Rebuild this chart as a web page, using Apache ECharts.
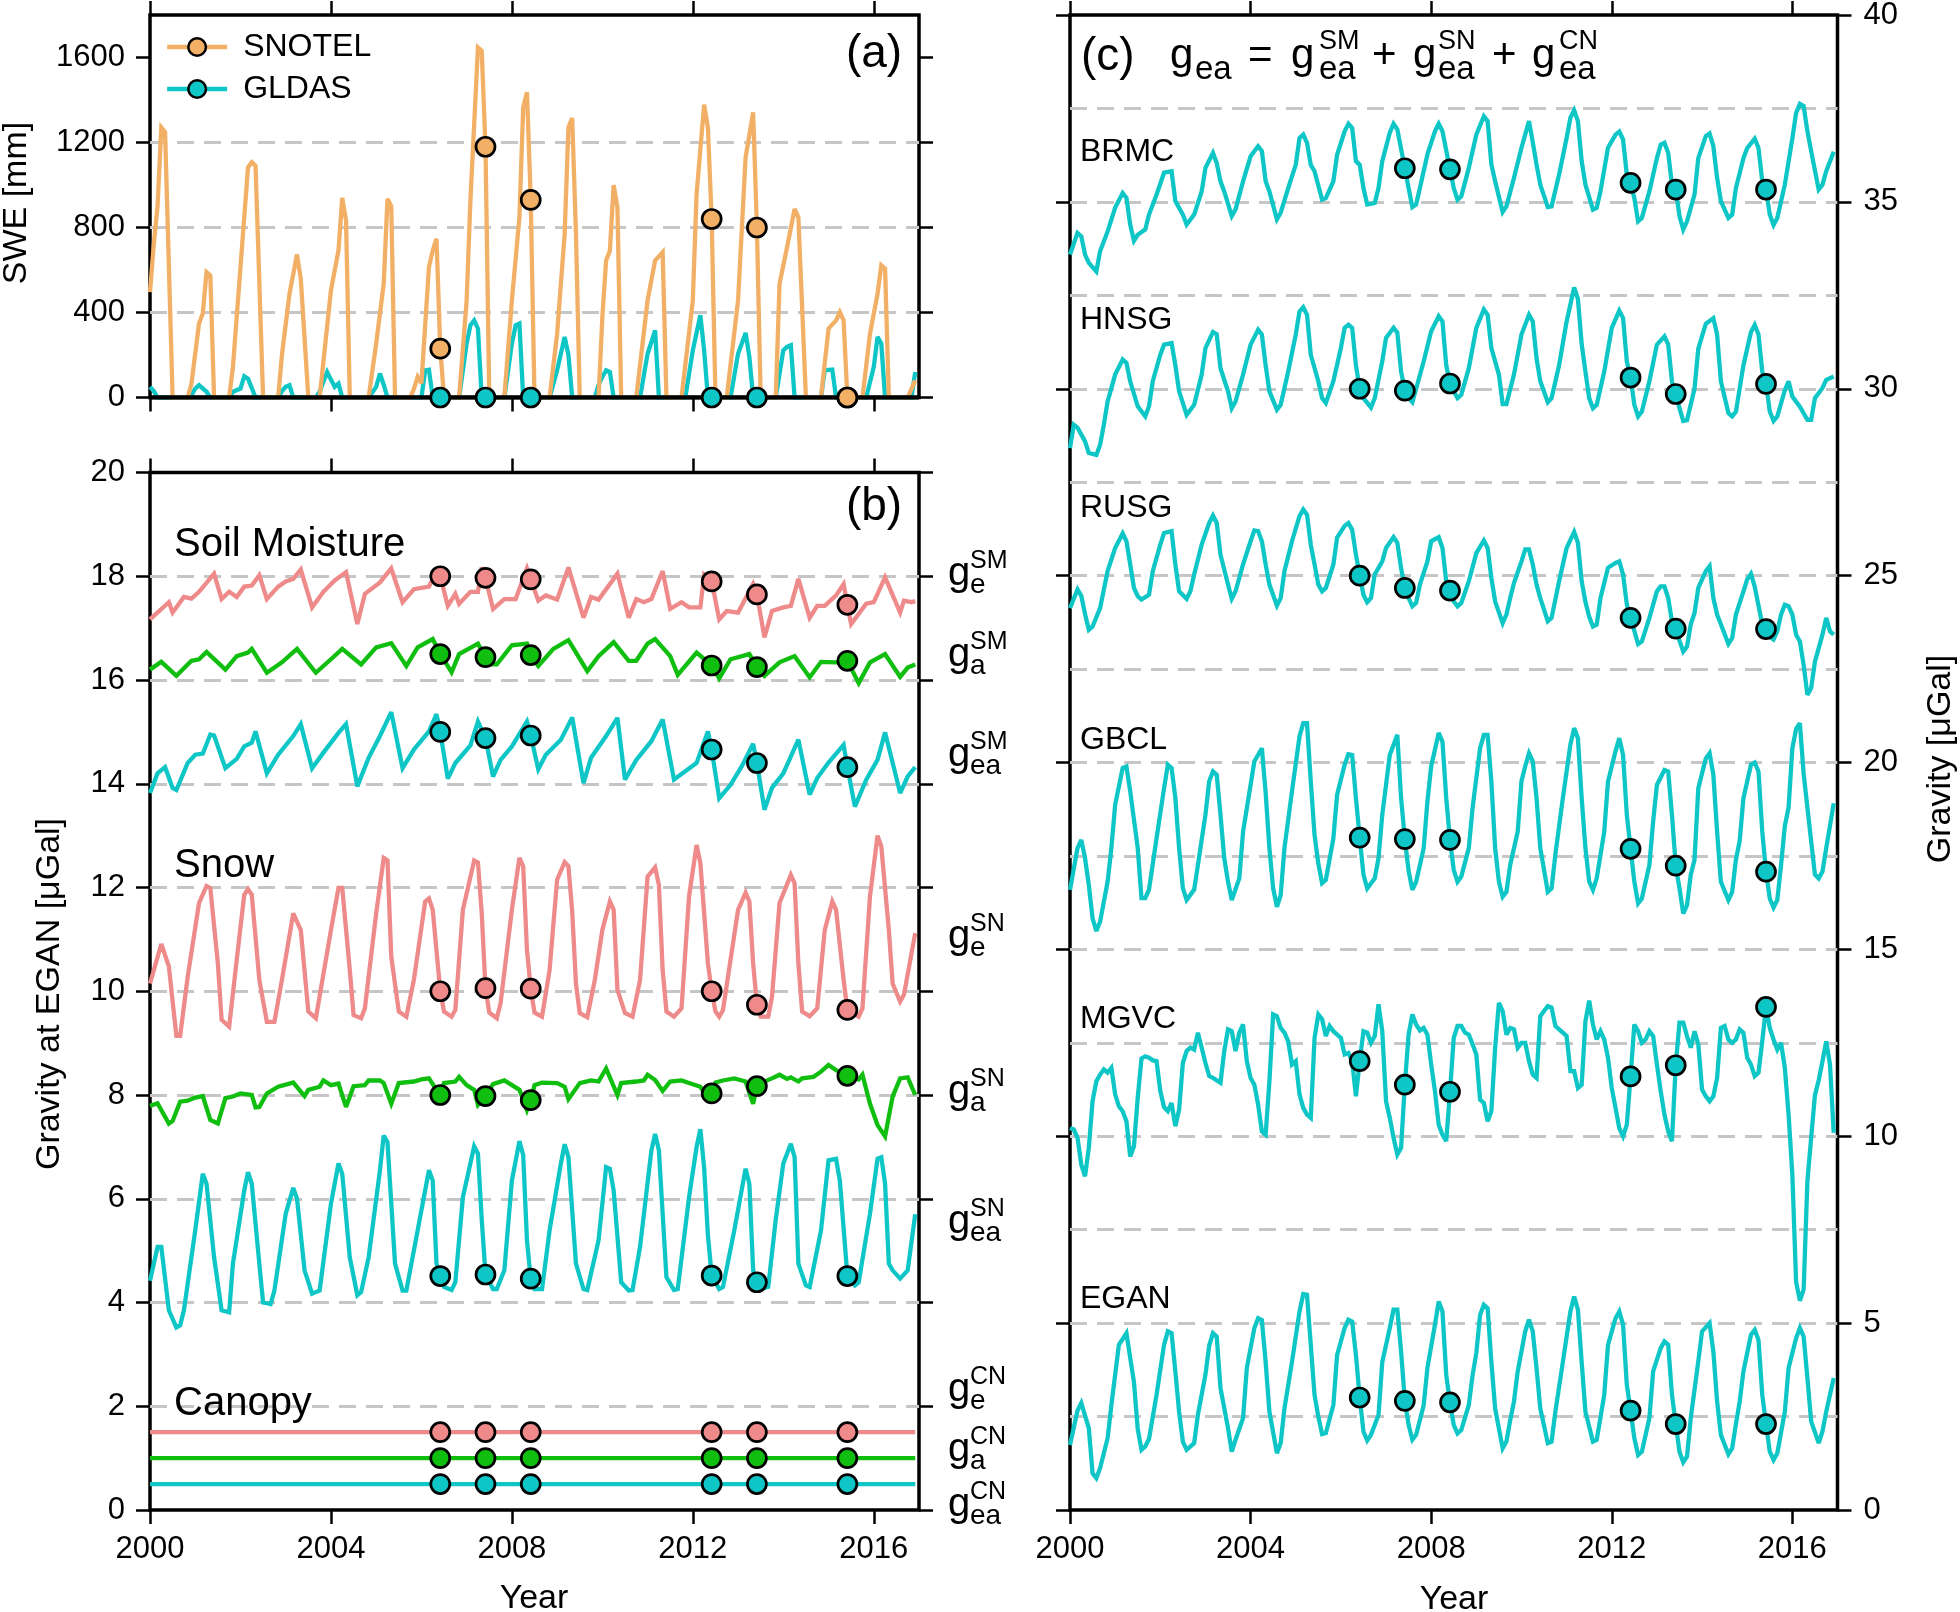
<!DOCTYPE html>
<html><head><meta charset="utf-8">
<script src="https://cdn.jsdelivr.net/npm/echarts/dist/echarts.min.js"></script>
<style>html,body{margin:0;padding:0;background:#fff}#c{width:1960px;height:1612px}</style>
</head><body><div id="c"></div>
<script>
// x values are month indices since Jan 2000 (0 = Jan 2000); axes label them as years
const yearTicks = [0, 48, 96, 144, 192];
const surveyMonths = [77, 89, 101, 149, 161, 185];

// ---- panel (a) SWE [mm] ----
const snotelSWE = [[0,496],[1,720],[2,900],[3,1271],[4,1248],[6,0],[10,0],[11,66],[13,348],[14,395],[15,590],[16,574],[17,0],[21,0],[22,144],[24,612],[26,1083],[27,1107],[28,1091],[30,0],[34,0],[35,200],[37,488],[39,673],[40,559],[42,0],[45,0],[48,504],[50,692],[51,939],[52,833],[53,0],[58,0],[60,254],[62,535],[63,935],[64,900],[65,0],[69,0],[70,40],[71,97],[72,66],[74,614],[75,692],[76,747],[77,230],[78,0],[82,0],[84,457],[85,927],[87,1647],[88,1632],[89,1180],[90,0],[94,0],[96,457],[98,849],[99,1365],[100,1436],[101,930],[102,0],[106,0],[108,300],[110,770],[111,1271],[112,1315],[113,770],[114,0],[119,0],[120,380],[121,645],[122,692],[123,1000],[124,895],[125,0],[129,0],[132,457],[134,645],[136,684],[137,0],[141,0],[144,457],[145,958],[147,1378],[148,1271],[149,840],[150,0],[153,0],[156,457],[158,1130],[160,1342],[161,800],[162,0],[166,0],[167,535],[169,707],[171,887],[172,848],[174,0],[178,0],[180,324],[182,363],[183,402],[184,363],[185,0],[189,0],[191,300],[193,488],[194,622],[195,606],[196,0],[201,0],[203,81]];
const gldasSWE = [[0,50],[1,30],[2,0],[10,0],[11,10],[12,42],[13,58],[15,27],[16,0],[21,0],[22,27],[24,42],[25,100],[26,89],[28,0],[34,0],[35,30],[36,50],[37,58],[38,0],[44,0],[45,27],[47,120],[49,50],[50,65],[51,0],[58,0],[60,50],[61,113],[62,60],[63,0],[72,0],[73,128],[74,131],[75,0],[82,0],[84,254],[85,340],[86,363],[87,324],[88,0],[94,0],[96,254],[97,340],[98,348],[99,0],[106,0],[108,128],[110,285],[111,200],[112,0],[118,0],[119,60],[120,97],[121,128],[122,120],[123,0],[130,0],[132,206],[134,316],[135,0],[142,0],[144,222],[146,387],[147,222],[148,0],[154,0],[156,206],[158,304],[159,190],[160,0],[166,0],[168,222],[169,238],[170,246],[171,0],[178,0],[179,128],[181,131],[182,0],[190,0],[192,144],[193,285],[194,254],[195,0],[202,0],[203,120]];
const snotelObs = [230, 1180, 930, 840, 800, 0];
const gldasObs = [0, 0, 0, 0, 0, 0];

// ---- panel (b) gravity at EGAN [µGal] ----
const smE = [[0,17.17],[5,17.5],[6,17.3],[9,17.6],[11,17.57],[13,17.7],[17,18.05],[19,17.56],[21,17.7],[23,17.6],[25,17.8],[27,17.82],[29,18.02],[31,17.56],[34,17.8],[36,17.9],[38,17.95],[40,18.13],[43,17.4],[46,17.7],[49,17.92],[52,18.08],[55,17.08],[57,17.66],[61,17.88],[64,18.15],[67,17.5],[70,17.75],[74,17.8],[76,18.1],[77,18.0],[79,17.43],[81,17.66],[82,17.47],[85,17.7],[87,17.7],[88,18.17],[89,17.97],[91,17.37],[94,17.56],[97,17.56],[100,18.15],[101,17.94],[103,17.53],[105,17.63],[108,17.55],[111,18.17],[115,17.2],[117,17.6],[119,17.55],[124,18.05],[127,17.2],[129,17.56],[131,17.5],[133,17.56],[136,18.1],[138,17.37],[141,17.5],[143,17.4],[146,17.4],[147,18.03],[149,17.9],[151,17.17],[153,17.33],[156,17.3],[160,17.85],[161,17.65],[163,16.82],[165,17.33],[168,17.4],[170,17.43],[172,17.95],[175,17.2],[177,17.43],[179,17.43],[182,17.63],[184,17.85],[185,17.45],[186,17.08],[190,17.47],[192,17.5],[195,17.98],[199,17.3],[200,17.53],[202,17.5],[203,17.52]];
const smA = [[0,16.2],[3,16.35],[7,16.08],[11,16.37],[13,16.4],[15,16.54],[20,16.2],[23,16.46],[26,16.53],[27,16.6],[31,16.14],[35,16.34],[39,16.6],[44,16.14],[48,16.4],[51,16.6],[56,16.3],[60,16.63],[64,16.71],[68,16.27],[71,16.63],[75,16.79],[77,16.5],[80,16.15],[82,16.5],[87,16.7],[89,16.44],[90,16.3],[92,16.3],[96,16.67],[100,16.7],[101,16.48],[103,16.27],[107,16.6],[111,16.77],[116,16.17],[119,16.46],[123,16.73],[127,16.37],[129,16.37],[132,16.7],[134,16.79],[138,16.46],[140,16.1],[145,16.53],[149,16.28],[151,16.03],[154,16.4],[159,16.5],[161,16.25],[163,16.08],[167,16.34],[171,16.46],[175,16.05],[178,16.35],[182,16.34],[185,16.37],[188,15.94],[191,16.34],[195,16.5],[199,16.06],[201,16.24],[203,16.3]];
const smEA = [[0,13.82],[2,14.2],[4,14.32],[6,13.92],[7,13.88],[10,14.4],[12,14.56],[14,14.58],[16,14.95],[17,14.93],[20,14.3],[23,14.48],[25,14.72],[27,14.79],[28,15.01],[31,14.2],[34,14.56],[38,14.92],[40,15.15],[43,14.3],[46,14.6],[50,14.98],[52,15.15],[55,13.95],[58,14.5],[61,14.92],[64,15.38],[67,14.3],[70,14.66],[74,15.01],[76,15.34],[77,15.0],[79,14.1],[81,14.4],[85,14.74],[87,15.2],[89,14.88],[91,14.14],[93,14.46],[96,14.72],[100,15.2],[101,14.93],[103,14.28],[105,14.56],[109,14.85],[112,15.28],[115,14.01],[117,14.5],[121,14.92],[124,15.27],[126,14.08],[129,14.46],[133,14.82],[136,15.24],[139,14.08],[142,14.24],[145,14.4],[148,15.01],[149,14.66],[151,13.72],[154,13.98],[157,14.34],[160,14.77],[161,14.4],[163,13.5],[165,13.92],[168,14.2],[172,14.85],[175,13.79],[177,14.11],[180,14.41],[184,14.75],[185,14.32],[187,13.56],[190,14.08],[193,14.46],[195,14.99],[199,13.82],[201,14.14],[203,14.32]];
const snE = [[0,10.15],[3,10.91],[5,10.48],[7,9.14],[8,9.14],[10,10.28],[13,11.7],[15,12.03],[16,11.99],[18,10.54],[19,9.45],[21,9.32],[23,10.6],[25,11.86],[26,11.97],[27,11.86],[29,10.22],[31,9.41],[33,9.41],[35,10.22],[38,11.5],[40,11.18],[42,9.61],[44,9.48],[48,11.18],[50,11.99],[51,11.99],[53,10.41],[54,9.54],[56,9.48],[57,9.67],[60,11.5],[62,12.57],[63,12.52],[64,10.67],[66,9.61],[68,9.51],[70,10.22],[73,11.73],[74,11.79],[75,11.57],[77,10.0],[78,9.61],[80,9.51],[81,9.64],[83,11.57],[86,12.52],[87,12.48],[88,11.5],[89,10.06],[90,9.59],[92,9.48],[93,9.77],[96,11.57],[98,12.57],[99,12.41],[100,10.8],[101,10.05],[102,9.59],[104,9.51],[106,10.41],[108,12.15],[110,12.49],[111,12.41],[112,11.54],[113,10.15],[114,9.58],[116,9.5],[118,10.22],[120,11.18],[122,11.73],[123,11.57],[124,10.03],[126,9.58],[128,9.51],[130,10.22],[132,12.21],[134,12.39],[135,12.05],[136,10.41],[137,9.61],[139,9.51],[141,9.67],[143,11.83],[145,12.82],[146,12.47],[148,10.54],[149,10.0],[150,9.61],[151,9.51],[152,9.64],[156,11.57],[158,11.9],[159,11.73],[160,10.54],[161,9.74],[162,9.51],[164,9.51],[165,9.89],[167,11.7],[170,12.24],[171,12.08],[172,10.54],[173,9.61],[175,9.52],[177,9.67],[179,11.18],[181,11.73],[182,11.57],[184,10.22],[185,9.64],[188,9.51],[189,9.67],[191,11.83],[193,13.0],[194,12.79],[196,11.18],[197,10.15],[199,9.8],[200,9.93],[203,11.12]];
const snA = [[0,7.79],[2,7.84],[5,7.45],[6,7.5],[8,7.87],[10,7.89],[12,7.95],[14,7.98],[16,7.52],[18,7.45],[20,7.94],[22,7.97],[24,8.03],[27,8.0],[28,7.76],[29,7.77],[31,8.03],[34,8.16],[37,8.22],[38,8.24],[41,7.98],[42,8.1],[45,8.16],[46,8.28],[48,8.19],[50,8.22],[52,7.77],[54,8.17],[57,8.19],[58,8.28],[61,8.28],[62,8.23],[64,7.83],[66,8.23],[70,8.26],[72,8.3],[74,8.32],[76,8.1],[77,8.0],[78,8.23],[81,8.26],[82,8.35],[84,8.19],[86,8.1],[87,7.81],[89,7.98],[91,8.21],[94,8.28],[98,8.1],[100,7.71],[101,7.9],[102,8.19],[104,8.24],[108,8.23],[110,8.16],[111,7.92],[114,8.23],[117,8.28],[119,8.26],[121,8.51],[124,8.0],[125,8.23],[129,8.26],[131,8.28],[132,8.39],[134,8.29],[136,8.08],[138,8.26],[141,8.28],[143,8.23],[146,8.16],[148,7.92],[149,8.03],[150,8.24],[152,8.28],[155,8.32],[158,8.26],[160,7.83],[161,8.17],[162,8.23],[165,8.32],[167,8.39],[169,8.31],[170,8.34],[172,8.26],[173,8.32],[176,8.35],[178,8.45],[180,8.58],[182,8.48],[185,8.37],[188,8.3],[189,8.39],[191,7.83],[193,7.42],[195,7.2],[197,7.97],[199,8.32],[201,8.34],[203,8.0]];
const snEA = [[0,4.42],[2,5.07],[3,5.07],[5,3.85],[7,3.52],[8,3.56],[9,3.85],[12,5.39],[14,6.48],[15,6.29],[17,4.87],[19,3.85],[21,3.81],[22,4.75],[25,6.16],[26,6.51],[27,6.29],[29,4.75],[30,4.0],[32,3.97],[33,4.23],[36,5.71],[38,6.21],[39,6.0],[41,4.62],[43,4.17],[45,4.23],[48,5.9],[50,6.68],[51,6.48],[53,4.87],[55,4.14],[56,4.2],[58,4.87],[61,6.55],[62,7.22],[63,7.09],[65,4.75],[67,4.23],[68,4.23],[71,5.39],[74,6.55],[75,6.35],[76,4.75],[77,4.51],[78,4.3],[80,4.24],[81,4.39],[83,6.03],[86,7.01],[87,6.87],[88,5.6],[89,4.54],[91,4.26],[92,4.26],[94,4.62],[96,6.35],[98,7.11],[99,6.84],[100,5.2],[101,4.46],[102,4.26],[104,4.26],[106,5.39],[109,6.68],[110,7.05],[111,6.8],[113,4.75],[115,4.26],[116,4.24],[119,5.2],[121,6.61],[122,6.58],[123,6.16],[125,4.39],[127,4.23],[128,4.24],[130,5.07],[133,6.93],[134,7.25],[135,6.93],[137,4.49],[139,4.24],[140,4.26],[143,6.03],[145,7.0],[146,7.34],[147,6.6],[148,5.3],[149,4.52],[151,4.26],[152,4.3],[155,5.39],[158,6.58],[159,6.29],[160,4.62],[161,4.39],[162,4.26],[164,4.3],[166,5.6],[168,6.68],[170,7.06],[171,6.8],[172,4.75],[174,4.33],[175,4.3],[178,5.39],[180,6.74],[182,6.77],[183,6.35],[185,4.51],[187,4.33],[188,4.39],[191,5.71],[193,6.77],[194,6.8],[195,6.29],[196,4.75],[197,4.62],[199,4.46],[201,4.62],[203,5.7]];
const cnE = [[0,1.5],[203,1.5]];
const cnA = [[0,1.0],[203,1.0]];
const cnEA = [[0,0.5],[203,0.5]];
const smEObs = [18.0, 17.97, 17.94, 17.9, 17.65, 17.45];
const smAObs = [16.5, 16.44, 16.48, 16.28, 16.25, 16.37];
const smEAObs = [15.0, 14.88, 14.93, 14.66, 14.4, 14.32];
const snEObs = [10.0, 10.06, 10.05, 10.0, 9.74, 9.64];
const snAObs = [8.0, 7.98, 7.9, 8.03, 8.17, 8.37];
const snEAObs = [4.51, 4.54, 4.46, 4.52, 4.39, 4.51];
const cnEObs = [1.5, 1.5, 1.5, 1.5, 1.5, 1.5];
const cnAObs = [1.0, 1.0, 1.0, 1.0, 1.0, 1.0];
const cnEAObs = [0.5, 0.5, 0.5, 0.5, 0.5, 0.5];

// ---- panel (c) g_ea at stations [µGal], offset ----
const brmc = [[0,33.59],[2,34.17],[3,34.08],[4,33.59],[5,33.37],[7,33.14],[8,33.68],[10,34.21],[12,34.84],[14,35.24],[15,35.11],[16,34.39],[17,33.96],[18,34.12],[20,34.26],[21,34.66],[23,35.19],[25,35.78],[27,35.82],[28,35.02],[30,34.66],[31,34.39],[33,34.66],[35,35.28],[36,35.91],[38,36.31],[39,36.04],[40,35.55],[41,35.28],[43,34.62],[44,34.8],[46,35.55],[48,36.22],[50,36.49],[51,36.36],[52,35.55],[53,35.28],[55,34.53],[56,34.71],[58,35.37],[60,35.99],[61,36.71],[62,36.8],[63,36.58],[64,35.99],[65,35.82],[67,35.06],[68,35.1],[70,35.55],[71,36.26],[73,36.89],[74,37.09],[75,36.98],[76,36.09],[77,35.99],[78,35.37],[79,34.93],[81,34.97],[82,35.37],[83,36.09],[85,36.85],[86,37.09],[87,36.94],[89,35.9],[90,35.37],[91,34.86],[92,34.93],[93,35.37],[95,36.27],[97,36.89],[98,37.09],[99,36.89],[101,35.87],[102,35.37],[103,35.06],[104,35.15],[106,35.91],[108,36.8],[110,37.29],[111,37.16],[112,36.0],[113,35.55],[115,34.73],[116,34.88],[118,35.64],[120,36.45],[122,37.16],[123,36.6],[124,36.0],[125,35.46],[127,34.86],[128,34.88],[130,35.73],[132,36.71],[133,37.25],[134,37.45],[135,37.16],[136,36.09],[137,35.46],[139,34.79],[140,34.84],[141,35.28],[143,36.45],[145,36.8],[146,36.88],[147,36.67],[148,35.73],[149,35.51],[150,35.1],[151,34.48],[152,34.57],[154,35.28],[156,36.17],[157,36.53],[158,36.58],[159,36.31],[160,35.46],[161,35.33],[162,34.62],[163,34.26],[164,34.48],[166,35.2],[167,36.17],[169,36.76],[170,36.83],[171,36.49],[172,35.64],[173,35.02],[175,34.57],[176,34.66],[177,35.37],[179,36.17],[180,36.44],[182,36.69],[183,36.44],[184,35.55],[185,35.33],[186,34.66],[187,34.38],[188,34.57],[190,35.46],[192,36.7],[193,37.38],[194,37.62],[195,37.56],[196,36.89],[197,36.36],[199,35.33],[200,35.46],[201,35.82],[203,36.34]];
const hnsg = [[0,28.41],[1,29.04],[2,28.96],[4,28.59],[5,28.28],[7,28.23],[8,28.5],[9,29.04],[10,29.66],[12,30.38],[14,30.78],[15,30.69],[16,30.2],[18,29.53],[20,29.26],[21,29.53],[22,30.2],[24,30.91],[25,31.18],[27,31.22],[28,30.63],[29,29.93],[31,29.3],[33,29.57],[35,30.38],[36,31.09],[38,31.52],[39,31.46],[40,30.55],[42,29.93],[43,29.48],[44,29.66],[46,30.38],[48,31.18],[50,31.58],[51,31.45],[52,30.63],[53,29.93],[55,29.44],[56,29.57],[58,30.46],[60,31.45],[61,32.07],[62,32.18],[63,31.98],[64,30.91],[66,30.2],[67,29.75],[68,29.62],[70,30.2],[72,31.09],[73,31.63],[74,31.71],[75,31.63],[76,30.63],[77,30.0],[78,29.75],[80,29.5],[81,29.75],[83,30.73],[84,31.36],[86,31.63],[87,31.5],[88,30.46],[89,29.95],[90,29.75],[91,29.64],[94,30.73],[96,31.54],[98,31.94],[99,31.8],[100,30.63],[101,30.14],[102,29.93],[103,29.75],[104,29.84],[106,30.55],[108,31.63],[110,32.12],[111,31.98],[112,31.09],[114,30.38],[115,29.59],[116,29.59],[118,30.38],[120,31.45],[122,31.98],[123,31.8],[124,30.82],[125,30.2],[127,29.64],[128,29.75],[130,30.63],[132,31.8],[134,32.71],[135,32.4],[136,31.2],[137,30.46],[138,29.75],[139,29.48],[140,29.57],[142,30.46],[144,31.63],[146,32.09],[147,31.89],[148,30.73],[149,30.3],[150,29.57],[151,29.26],[152,29.39],[154,30.2],[156,31.18],[158,31.4],[159,31.18],[160,30.2],[161,29.86],[162,29.48],[163,29.14],[164,29.16],[166,30.0],[167,31.07],[169,31.74],[171,31.89],[172,31.45],[173,30.2],[175,29.35],[176,29.26],[177,29.39],[179,30.63],[181,31.52],[182,31.71],[183,31.45],[184,30.46],[185,30.13],[186,29.39],[187,29.14],[188,29.26],[190,29.96],[191,30.2],[192,29.79],[194,29.52],[196,29.17],[197,29.17],[198,29.75],[200,30.02],[201,30.24],[203,30.33]];
const rusg = [[0,24.13],[2,24.63],[3,24.46],[4,23.97],[5,23.55],[6,23.64],[8,24.13],[10,25.12],[12,25.74],[14,26.13],[15,25.92],[16,25.3],[17,24.67],[18,24.45],[19,24.36],[21,24.49],[22,25.12],[24,25.83],[25,26.14],[27,26.19],[28,25.3],[29,24.58],[31,24.38],[32,24.58],[33,25.03],[35,25.83],[37,26.41],[38,26.61],[39,26.41],[40,25.56],[42,24.76],[43,24.38],[44,24.58],[46,25.3],[48,25.92],[49,26.21],[50,26.19],[51,25.92],[52,25.3],[53,24.76],[55,24.2],[56,24.4],[57,25.12],[59,25.92],[61,26.59],[62,26.77],[63,26.63],[64,25.83],[65,25.3],[66,24.76],[67,24.58],[68,24.67],[70,25.3],[71,26.02],[73,26.33],[74,26.41],[75,26.23],[76,25.56],[77,25.0],[78,24.49],[79,24.29],[80,24.4],[81,25.03],[83,25.38],[84,25.74],[86,26.03],[87,25.88],[88,25.2],[89,24.67],[90,24.4],[91,24.18],[92,24.27],[93,24.76],[95,25.38],[96,25.92],[98,26.03],[99,25.74],[100,24.85],[101,24.6],[102,24.31],[103,24.18],[104,24.27],[106,24.85],[108,25.6],[110,25.94],[111,25.74],[112,24.94],[113,24.31],[115,23.73],[116,23.96],[117,24.4],[118,24.8],[120,25.38],[121,25.7],[122,25.7],[123,25.3],[124,24.76],[125,24.4],[127,23.78],[128,23.87],[130,24.85],[132,25.74],[134,26.17],[135,25.88],[136,24.85],[137,24.3],[138,23.9],[139,23.64],[140,23.69],[141,24.4],[143,25.21],[145,25.34],[146,25.38],[147,25.03],[148,24.23],[149,23.87],[150,23.52],[151,23.17],[152,23.24],[154,23.87],[156,24.58],[157,24.71],[158,24.71],[159,24.4],[160,23.78],[161,23.58],[162,23.26],[163,22.97],[164,23.1],[165,23.7],[166,24.0],[167,24.67],[169,25.12],[170,25.25],[171,24.4],[172,23.96],[173,23.7],[175,23.17],[176,23.33],[177,23.96],[179,24.58],[180,24.9],[181,25.05],[182,24.7],[184,23.7],[185,23.57],[186,23.36],[187,23.29],[188,23.51],[189,23.96],[190,24.22],[191,24.18],[192,23.96],[193,23.42],[194,23.24],[195,22.61],[196,21.81],[197,21.99],[198,22.7],[199,23.06],[200,23.42],[201,23.87],[202,23.51],[203,23.42]];
const gbcl = [[0,16.59],[2,17.71],[3,17.93],[4,17.44],[5,16.72],[6,15.83],[7,15.49],[8,15.74],[10,16.81],[11,17.71],[12,18.87],[14,19.85],[15,19.89],[16,19.23],[18,17.71],[19,16.37],[20,16.37],[21,16.6],[23,17.97],[25,19.31],[26,19.94],[27,19.85],[28,19.05],[29,17.71],[30,16.64],[31,16.32],[33,16.6],[34,17.26],[36,18.6],[37,19.5],[38,19.76],[39,19.67],[40,18.6],[41,17.44],[42,16.81],[43,16.32],[45,16.9],[46,18.15],[48,19.4],[49,20.03],[51,20.38],[52,19.2],[53,17.71],[54,16.63],[55,16.14],[56,16.45],[57,17.71],[59,19.23],[61,20.7],[62,21.05],[63,21.05],[64,19.49],[65,18.06],[66,17.3],[67,16.77],[68,16.86],[70,17.97],[71,19.14],[73,19.94],[74,20.22],[75,20.2],[76,19.05],[77,17.99],[78,17.0],[79,16.63],[81,16.9],[82,17.44],[83,18.6],[85,20.2],[87,20.74],[88,19.05],[89,17.95],[90,17.1],[91,16.59],[92,16.81],[94,17.7],[95,18.96],[96,19.9],[98,20.79],[99,20.56],[100,19.05],[101,17.93],[102,17.12],[103,16.81],[104,16.95],[106,17.71],[107,18.78],[109,20.38],[110,20.74],[111,20.74],[112,19.49],[113,17.71],[114,16.81],[115,16.41],[116,16.54],[117,17.26],[119,18.15],[120,19.5],[121,19.9],[122,20.25],[123,20.03],[124,19.05],[125,17.71],[127,16.54],[128,16.63],[129,17.53],[131,19.05],[133,20.48],[134,20.92],[135,20.65],[136,19.05],[137,17.71],[138,16.81],[139,16.59],[140,16.9],[142,18.15],[143,19.49],[145,20.3],[146,20.65],[147,20.2],[148,18.6],[149,17.69],[150,16.81],[151,16.23],[152,16.36],[154,17.26],[155,18.42],[156,19.4],[158,19.8],[159,19.76],[160,18.6],[161,17.24],[162,16.63],[163,15.96],[164,16.18],[165,17.0],[166,17.4],[167,19.31],[169,20.11],[170,20.25],[171,19.67],[172,18.15],[173,16.81],[175,16.32],[176,16.54],[177,17.4],[178,17.9],[179,19.05],[181,19.94],[182,20.0],[183,19.76],[184,18.15],[185,17.08],[186,16.36],[187,16.12],[188,16.32],[189,17.26],[190,18.3],[191,18.8],[192,20.38],[193,20.9],[194,21.05],[195,19.7],[197,17.89],[198,17.0],[199,16.9],[200,17.08],[201,17.71],[203,18.91]];
const mgvc = [[0,10.22],[1,10.18],[2,9.96],[3,9.24],[4,8.93],[5,9.69],[6,10.94],[7,11.47],[8,11.65],[9,11.79],[10,11.7],[11,11.83],[12,11.12],[13,10.8],[14,10.67],[15,10.4],[16,9.46],[17,9.73],[18,11.03],[19,12.08],[20,12.14],[21,12.1],[22,12.03],[23,12.01],[24,11.21],[25,10.78],[26,10.67],[27,10.89],[28,10.27],[29,10.71],[30,11.96],[31,12.28],[32,12.37],[33,12.32],[34,12.77],[35,12.37],[36,11.96],[37,11.61],[38,11.56],[40,11.43],[41,12.28],[42,12.86],[43,12.81],[44,12.28],[45,12.77],[46,12.99],[47,12.01],[48,11.56],[49,11.38],[50,10.85],[51,10.13],[52,10.04],[53,11.47],[54,13.26],[55,13.21],[56,12.9],[57,12.77],[58,12.54],[59,11.92],[60,12.01],[61,11.12],[62,10.76],[63,10.58],[64,10.49],[65,12.63],[66,13.26],[67,13.13],[68,12.68],[69,12.95],[70,12.81],[71,12.72],[72,12.63],[73,12.19],[74,12.23],[75,12.01],[76,11.07],[77,12.01],[78,12.81],[79,12.77],[80,12.5],[81,12.68],[82,13.53],[83,12.81],[84,10.94],[85,10.49],[86,9.96],[87,9.51],[88,9.69],[89,11.38],[90,12.72],[91,13.26],[92,12.99],[93,12.83],[94,12.9],[95,12.72],[96,11.92],[97,11.21],[98,10.31],[99,10.04],[100,9.87],[101,11.19],[102,12.63],[103,12.95],[104,12.95],[105,12.77],[106,12.72],[107,12.46],[108,12.19],[109,10.98],[110,10.89],[111,10.4],[112,10.67],[113,12.37],[114,13.57],[115,13.35],[116,12.72],[117,12.9],[118,12.86],[119,12.37],[120,12.5],[121,12.5],[122,12.01],[123,11.65],[124,11.56],[125,13.21],[126,13.35],[127,13.48],[128,13.44],[129,12.95],[130,12.86],[131,12.77],[132,12.68],[133,11.74],[134,11.74],[135,11.29],[136,11.38],[137,13.08],[138,13.63],[139,12.99],[140,12.59],[141,12.81],[142,12.59],[143,12.1],[144,11.29],[145,10.76],[146,10.22],[147,10.0],[148,10.31],[149,11.6],[150,12.99],[151,12.81],[152,12.5],[153,12.59],[154,12.81],[155,12.68],[156,11.92],[157,11.21],[158,10.58],[159,10.13],[160,9.87],[161,11.9],[162,13.04],[163,13.04],[164,12.68],[165,12.37],[166,12.81],[167,12.46],[168,11.25],[169,11.07],[170,10.94],[171,11.07],[172,11.56],[173,12.9],[174,12.95],[175,12.59],[176,12.5],[177,12.59],[178,12.86],[179,12.77],[180,12.1],[181,11.92],[182,11.61],[183,11.7],[184,12.54],[185,13.46],[186,12.9],[187,12.59],[188,12.32],[189,12.5],[190,11.83],[191,10.58],[192,8.97],[193,6.1],[194,5.6],[195,5.9],[196,8.8],[197,9.96],[198,11.1],[199,11.5],[200,12.0],[201,12.54],[202,11.92],[203,10.09]];
const egan = [[0,1.74],[2,2.66],[3,2.86],[5,2.19],[6,0.98],[7,0.85],[8,1.12],[10,1.92],[11,2.81],[12,3.62],[13,4.42],[15,4.73],[17,3.42],[18,2.17],[19,1.61],[20,1.7],[21,1.9],[23,3.08],[25,4.42],[26,4.78],[27,4.73],[28,3.71],[29,2.63],[30,1.83],[31,1.61],[33,1.79],[34,2.55],[36,3.62],[37,4.4],[38,4.73],[39,4.64],[40,3.26],[42,2.19],[43,1.56],[44,1.88],[46,2.46],[47,3.8],[49,4.87],[50,5.13],[51,5.08],[52,3.96],[53,2.63],[55,1.52],[56,1.79],[57,2.72],[59,3.96],[61,5.31],[62,5.78],[63,5.76],[64,4.42],[65,3.08],[66,2.5],[67,2.03],[68,2.06],[70,2.81],[71,4.15],[73,4.87],[74,5.09],[75,5.04],[76,4.15],[77,3.01],[78,2.1],[79,1.86],[80,2.01],[82,2.54],[83,3.96],[85,4.87],[86,5.36],[87,5.36],[88,4.24],[89,2.92],[90,2.28],[91,1.88],[92,2.01],[94,2.8],[95,3.8],[97,4.96],[98,5.58],[99,5.31],[100,3.62],[101,2.88],[102,2.28],[103,2.05],[104,2.14],[106,2.81],[107,3.6],[108,4.2],[109,5.22],[110,5.49],[111,5.4],[112,3.96],[113,2.72],[115,1.65],[116,1.83],[117,2.4],[118,2.9],[119,3.71],[121,4.78],[122,5.09],[123,4.78],[124,3.8],[125,2.72],[127,1.79],[128,1.83],[129,2.63],[131,3.96],[133,5.31],[134,5.71],[135,5.36],[136,3.96],[137,2.63],[139,1.83],[140,1.88],[142,3.08],[143,4.42],[145,5.13],[146,5.31],[147,4.96],[148,3.35],[149,2.66],[150,1.92],[151,1.47],[152,1.56],[154,2.46],[155,3.71],[157,4.33],[158,4.51],[159,4.42],[160,3.08],[161,2.3],[162,1.56],[163,1.28],[164,1.43],[165,2.46],[167,3.98],[168,4.78],[170,5.0],[171,4.24],[172,2.9],[173,2.01],[175,1.49],[176,1.65],[177,2.3],[178,2.9],[179,3.71],[181,4.69],[182,4.82],[183,4.55],[184,3.08],[185,2.3],[186,1.56],[187,1.34],[188,1.52],[190,2.63],[191,3.8],[193,4.6],[194,4.87],[195,4.64],[196,3.53],[197,2.37],[199,1.79],[200,2.1],[201,2.63],[203,3.53]];
const brmcObs = [null, 35.9, 35.87, 35.51, 35.33, 35.33];
const hnsgObs = [30.0, 29.95, 30.14, 30.3, 29.86, 30.13];
const rusgObs = [25.0, 24.67, 24.6, 23.87, 23.58, 23.57];
const gbclObs = [17.99, 17.95, 17.93, 17.69, 17.24, 17.08];
const mgvcObs = [12.01, 11.38, 11.19, 11.6, 11.9, 13.46];
const eganObs = [3.01, 2.92, 2.88, 2.66, 2.3, 2.3];

const stationNames = ['BRMC', 'HNSG', 'RUSG', 'GBCL', 'MGVC', 'EGAN'];

// ---- styling ----
const FONT = 'Liberation Sans, Arial, Helvetica, sans-serif';
const C_ORANGE = '#F2B067', C_CYAN = '#0FC6C6', C_PINK = '#EE8A8A', C_GREEN = '#10BE10';
const LW = 4.3;
const GRID_LINE = {show: true, showMinLine: false, showMaxLine: false,
  lineStyle: {color: '#c6c6c6', width: 3, type: [17, 10]}};
const TICK = {show: true, inside: false, length: 14, lineStyle: {color: '#000', width: 2.5}};
const LABEL = {color: '#000', fontSize: 31, fontFamily: FONT};

function xAx(grid, pos, showLabel) {
  return {type: 'value', gridIndex: grid, min: 0, max: 204, position: pos,
    axisLine: {show: false, onZero: false},
    axisTick: Object.assign({customValues: yearTicks}, TICK),
    axisLabel: Object.assign({show: showLabel, customValues: yearTicks, margin: 24,
      formatter: v => String(2000 + v / 12)}, LABEL),
    splitLine: {show: false}};
}
function yAx(grid, pos, min, max, interval, ticks, showLabel, split, margin) {
  return {type: 'value', gridIndex: grid, min: min, max: max, interval: interval, position: pos,
    axisLine: {show: false, onZero: false},
    axisTick: Object.assign({customValues: ticks}, TICK),
    axisLabel: Object.assign({show: showLabel, customValues: ticks, margin: margin || 25,
      formatter: v => String(v)}, LABEL),
    splitLine: split ? GRID_LINE : {show: false}};
}
const range = (a, b, s) => { const r = []; for (let v = a; v <= b + 1e-9; v += s) r.push(v); return r; };

const xAxes = [
  xAx(0, 'bottom', false), xAx(0, 'top', false),
  xAx(1, 'bottom', true), xAx(1, 'top', false),
  xAx(2, 'bottom', true), xAx(2, 'top', false)
];
const yAxes = [
  yAx(0, 'left', 0, 1800, 400, range(0, 1600, 400), true, true),
  yAx(0, 'right', 0, 1800, 400, range(0, 1600, 400), false, false),
  yAx(1, 'left', 0, 20, 2, range(0, 20, 2), true, true),
  yAx(1, 'right', 0, 20, 2, range(0, 20, 2), false, false),
  yAx(2, 'left', 0, 40, 5, range(0, 40, 5), false, false),
  yAx(2, 'right', 0, 40, 5, range(0, 40, 5), true, false, 26),
  {type: 'value', gridIndex: 2, min: 0, max: 40, interval: 2.5, position: 'left', axisLine: {show: false, onZero: false},
   axisTick: {show: false}, axisLabel: {show: false}, splitLine: GRID_LINE}
];

const series = [];
function addLine(name, data, color, xi, yi) {
  series.push({type: 'line', name: name, data: data, xAxisIndex: xi, yAxisIndex: yi,
    symbol: 'circle', symbolSize: 19, showSymbol: false, z: 2,
    lineStyle: {color: color, width: LW, join: 'miter', miterLimit: 3}, itemStyle: {color: color},
    emphasis: {disabled: true}, animation: false});
}
function addObs(name, obs, color, xi, yi) {
  series.push({type: 'scatter', name: name, xAxisIndex: xi, yAxisIndex: yi, z: 5,
    data: surveyMonths.map((m, i) => [m, obs[i]]).filter(d => d[1] !== null),
    symbol: 'circle', symbolSize: 19,
    itemStyle: {color: color, borderColor: '#000', borderWidth: 2.7, opacity: 1},
    emphasis: {disabled: true}, animation: false});
}
// panel a
addLine('GLDAS', gldasSWE, C_CYAN, 0, 0);
addLine('SNOTEL', snotelSWE, C_ORANGE, 0, 0);
addObs('GLDAS obs', gldasObs, C_CYAN, 0, 0);
addObs('SNOTEL obs', snotelObs, C_ORANGE, 0, 0);
// panel b
[[smE, smEObs, C_PINK], [smA, smAObs, C_GREEN], [smEA, smEAObs, C_CYAN],
 [snE, snEObs, C_PINK], [snA, snAObs, C_GREEN], [snEA, snEAObs, C_CYAN],
 [cnE, cnEObs, C_PINK], [cnA, cnAObs, C_GREEN], [cnEA, cnEAObs, C_CYAN]].forEach((s, i) => {
  addLine('b' + i, s[0], s[2], 2, 2);
  addObs('b' + i + ' obs', s[1], s[2], 2, 2);
});
// panel c
[[brmc, brmcObs], [hnsg, hnsgObs], [rusg, rusgObs], [gbcl, gbclObs], [mgvc, mgvcObs], [egan, eganObs]].forEach((s, i) => {
  addLine(stationNames[i], s[0], C_CYAN, 4, 4);
  addObs(stationNames[i] + ' obs', s[1], C_CYAN, 4, 4);
});
// black line at zero in panel (a), on top of the series
series.push({type: 'line', name: 'zero', xAxisIndex: 0, yAxisIndex: 0, z: 4, symbol: 'none',
  data: [[0, 0], [204, 0]], lineStyle: {color: '#000', width: 4.5}, animation: false, silent: true});

// ---- texts ----
const graphics = [];
function T(text, x, y, size, o) {
  o = o || {};
  graphics.push({type: 'text', x: x, y: y, rotation: o.rot || 0, z: 100,
    style: {text: text, font: size + 'px ' + FONT, fill: '#000',
      align: o.align || 'left', verticalAlign: 'middle'}});
}
T('(a)', 874, 54, 46, {align: 'center'});
T('(b)', 874, 507, 46, {align: 'center'});
T('Soil Moisture', 174, 545, 40);
T('Snow', 174, 866, 40);
T('Canopy', 174, 1404, 40);
T('SWE [mm]', 17, 203, 34, {align: 'center', rot: Math.PI / 2});
T('Gravity at EGAN [\u03BCGal]', 50, 994, 34, {align: 'center', rot: Math.PI / 2});
T('Gravity [\u03BCGal]', 1941, 759, 34, {align: 'center', rot: Math.PI / 2});
T('Year', 534, 1599, 34, {align: 'center'});
T('Year', 1454, 1600, 34, {align: 'center'});
// g labels right of panel (b): [glyph centre y, subscript, superscript]
[[582, 'e', 'SM'], [663, 'a', 'SM'], [763, 'ea', 'SM'],
 [945, 'e', 'SN'], [1100, 'a', 'SN'], [1230, 'ea', 'SN'],
 [1398, 'e', 'CN'], [1458, 'a', 'CN'], [1513, 'ea', 'CN']].forEach(l => {
  T('g', 948, l[0] - 8, 40);
  T(l[2], 970, l[0] - 21, 25);
  T(l[1], 970, l[0] + 3, 28);
});
// station labels panel (c)
[152, 320, 508, 740, 1019, 1299].forEach((y, i) => T(stationNames[i], 1080, y, 32));
// panel (c) title
T('(c)', 1081, 57, 46);
T('g', 1170, 56, 42); T('ea', 1195, 70, 33);
T('=', 1248, 56, 42);
T('g', 1291, 56, 42); T('SM', 1319, 42, 27); T('ea', 1319, 70, 33);
T('+', 1372, 56, 42);
T('g', 1413, 56, 42); T('SN', 1438, 42, 27); T('ea', 1438, 70, 33);
T('+', 1492, 56, 42);
T('g', 1532, 56, 42); T('CN', 1559, 42, 27); T('ea', 1559, 70, 33);

const chart = echarts.init(document.getElementById('c'), null, {renderer: 'canvas'});
chart.setOption({
  backgroundColor: '#fff',
  animation: false,
  grid: [
    {left: 150, right: 1041, top: 15, bottom: 1214.5, show: true, borderColor: '#000', borderWidth: 3.5, backgroundColor: 'transparent', outerBoundsMode: 'none'},
    {left: 150, right: 1041, top: 472.5, bottom: 102, show: true, borderColor: '#000', borderWidth: 3.5, backgroundColor: 'transparent', outerBoundsMode: 'none'},
    {left: 1070, right: 122.5, top: 15, bottom: 102, show: true, borderColor: '#000', borderWidth: 3.5, backgroundColor: 'transparent', outerBoundsMode: 'none'}
  ],
  legend: {data: ['SNOTEL', 'GLDAS'], orient: 'vertical', left: 165, top: 31, padding: 0,
    itemWidth: 60, itemHeight: 22, itemGap: 10, selectedMode: false,
    lineStyle: {width: LW},
    textStyle: {color: '#000', fontSize: 32, fontFamily: FONT, padding: [0, 0, 0, 11]},
    itemStyle: {borderColor: '#000', borderWidth: 2.5}},
  xAxis: xAxes,
  yAxis: yAxes,
  series: series,
  graphic: graphics
});
</script></body></html>
